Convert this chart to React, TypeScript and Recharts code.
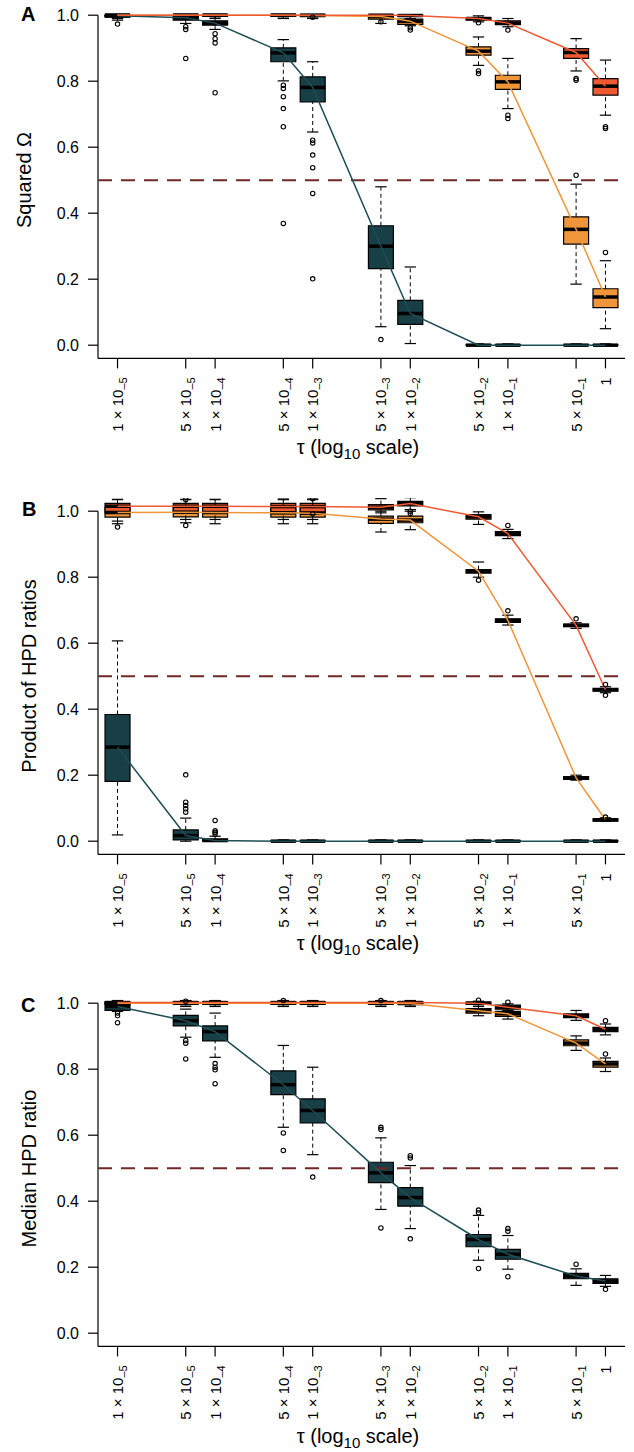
import React from 'react';
import {
  ComposedChart, XAxis, YAxis, Line, ReferenceArea, ReferenceLine, ReferenceDot,
} from 'recharts';

const FONT = '"Liberation Sans", Arial, Helvetica, sans-serif';

// ---- categories / tick labels ----
const TAU = [1e-5, 5e-5, 1e-4, 5e-4, 1e-3, 5e-3, 1e-2, 5e-2, 1e-1, 5e-1, 1];
const TAU_MANT = ['1', '5', '1', '5', '1', '5', '1', '5', '1', '5', '1'];
const TAU_EXP = ['–5', '–5', '–4', '–4', '–3', '–3', '–2', '–2', '–1', '–1', ''];
const Y_TICKS = [0, 0.2, 0.4, 0.6, 0.8, 1.0];

// ---- Panel A : Squared Omega ----
const A_TEAL_LO = [0.985, 0.975, 0.957, 0.801, 0.646, 0.056, 0.005, 0, 0, 0, 0];
const A_TEAL_Q1 = [0.994, 0.985, 0.970, 0.859, 0.737, 0.232, 0.063, 0, 0, 0, 0];
const A_TEAL_MED = [0.998, 0.992, 0.976, 0.886, 0.781, 0.300, 0.096, 0, 0, 0, 0];
const A_TEAL_Q3 = [1.0, 0.998, 0.983, 0.901, 0.813, 0.362, 0.136, 0.002, 0.002, 0.002, 0.002];
const A_TEAL_HI = [1.0, 1.0, 1.0, 0.926, 0.859, 0.480, 0.237, 0.004, 0.004, 0.004, 0.004];
const A_TEAL_OUT = [[0.973], [0.965, 0.957, 0.869], [0.944, 0.929, 0.916, 0.765], [0.788, 0.778, 0.753, 0.717, 0.662, 0.369], [0.621, 0.613, 0.576, 0.538, 0.46, 0.201], [0.017], [], [], [], [], []];

const A_ORG_LO = [0.99, 0.99, 0.99, 0.99, 0.99, 0.975, 0.968, 0.848, 0.717, 0.185, 0.05];
const A_ORG_Q1 = [0.997, 0.997, 0.997, 0.997, 0.997, 0.988, 0.972, 0.879, 0.775, 0.306, 0.114];
const A_ORG_MED = [1.0, 1.0, 1.0, 1.0, 0.999, 0.996, 0.982, 0.891, 0.798, 0.351, 0.146];
const A_ORG_Q3 = [1.0, 1.0, 1.0, 1.0, 1.0, 1.0, 0.988, 0.904, 0.818, 0.389, 0.171];
const A_ORG_HI = [1.0, 1.0, 1.0, 1.0, 1.0, 1.0, 1.0, 0.934, 0.869, 0.488, 0.256];
const A_ORG_OUT = [[], [], [], [], [0.994], [0.98], [0.962, 0.955], [0.831, 0.823], [0.697, 0.687], [0.515], [0.281]];

const A_RED_LO = [0.995, 0.995, 0.995, 0.995, 0.995, 0.995, 0.99, 0.98, 0.965, 0.831, 0.697];
const A_RED_Q1 = [0.999, 0.999, 0.999, 0.999, 0.999, 0.998, 0.996, 0.985, 0.971, 0.869, 0.758];
const A_RED_MED = [1.0, 1.0, 1.0, 1.0, 1.0, 1.0, 0.999, 0.99, 0.976, 0.887, 0.785];
const A_RED_Q3 = [1.0, 1.0, 1.0, 1.0, 1.0, 1.0, 1.0, 0.993, 0.983, 0.899, 0.808];
const A_RED_HI = [1.0, 1.0, 1.0, 1.0, 1.0, 1.0, 1.0, 0.998, 0.99, 0.929, 0.864];
const A_RED_OUT = [[], [], [], [], [], [], [], [0.977], [0.955], [0.808, 0.803], [0.662, 0.657]];

// ---- Panel B : Product of HPD ratios ----
const B_TEAL_LO = [0.019, 0, 0, 0, 0, 0, 0, 0, 0, 0, 0];
const B_TEAL_Q1 = [0.181, 0.004, 0, 0, 0, 0, 0, 0, 0, 0, 0];
const B_TEAL_MED = [0.285, 0.017, 0.002, 0, 0, 0, 0, 0, 0, 0, 0];
const B_TEAL_Q3 = [0.384, 0.034, 0.007, 0.002, 0.002, 0.002, 0.002, 0.002, 0.002, 0.002, 0.002];
const B_TEAL_HI = [0.607, 0.07, 0.015, 0.004, 0.004, 0.004, 0.004, 0.004, 0.004, 0.004, 0.004];
const B_TEAL_OUT = [[], [0.201, 0.118, 0.108, 0.098, 0.088], [0.063, 0.032, 0.027, 0.022], [], [], [], [], [], [], [], []];

const B_ORG_LO = [0.962, 0.965, 0.962, 0.962, 0.962, 0.937, 0.944, 0.80, 0.655, 0.185, 0.06];
const B_ORG_Q1 = [0.982, 0.983, 0.982, 0.982, 0.982, 0.963, 0.965, 0.812, 0.663, 0.187, 0.061];
const B_ORG_MED = [0.996, 0.997, 0.996, 0.995, 0.994, 0.976, 0.973, 0.818, 0.669, 0.192, 0.065];
const B_ORG_Q3 = [1.012, 1.012, 1.012, 1.01, 1.01, 0.985, 0.985, 0.823, 0.674, 0.196, 0.068];
const B_ORG_HI = [1.035, 1.035, 1.035, 1.035, 1.035, 1.0, 1.0, 0.846, 0.685, 0.2, 0.071];
const B_ORG_OUT = [[0.952], [0.957], [], [], [0.992], [], [], [0.791], [0.698], [], [0.073]];

const B_RED_LO = [0.97, 0.975, 0.975, 0.975, 0.975, 0.995, 1.005, 0.96, 0.917, 0.645, 0.45];
const B_RED_Q1 = [0.995, 0.997, 0.997, 0.997, 0.997, 1.004, 1.016, 0.976, 0.926, 0.65, 0.455];
const B_RED_MED = [1.015, 1.015, 1.015, 1.014, 1.014, 1.012, 1.023, 0.983, 0.932, 0.654, 0.459];
const B_RED_Q3 = [1.024, 1.024, 1.024, 1.024, 1.024, 1.02, 1.03, 0.99, 0.938, 0.658, 0.463];
const B_RED_HI = [1.041, 1.041, 1.041, 1.04, 1.04, 1.038, 1.041, 0.998, 0.945, 0.662, 0.468];
const B_RED_OUT = [[], [1.035], [], [], [1.038], [], [1.0, 0.993], [], [0.957], [0.674], [0.475, 0.442]];

// ---- Panel C : Median HPD ratio ----
const C_TEAL_LO = [0.975, 0.897, 0.836, 0.624, 0.541, 0.375, 0.317, 0.221, 0.194, 0.145, 0.142];
const C_TEAL_Q1 = [0.978, 0.931, 0.886, 0.723, 0.637, 0.456, 0.385, 0.262, 0.224, 0.165, 0.151];
const C_TEAL_MED = [0.99, 0.947, 0.914, 0.753, 0.675, 0.486, 0.411, 0.284, 0.239, 0.173, 0.158];
const C_TEAL_Q3 = [1.0, 0.963, 0.931, 0.795, 0.71, 0.518, 0.441, 0.299, 0.254, 0.181, 0.165];
const C_TEAL_HI = [1.0, 0.982, 0.97, 0.872, 0.806, 0.592, 0.508, 0.357, 0.296, 0.195, 0.175];
const C_TEAL_OUT = [[0.97, 0.962, 0.941], [0.887, 0.879, 0.831], [0.817, 0.806, 0.798, 0.756], [0.607, 0.554], [0.473], [0.624, 0.617, 0.319], [0.538, 0.531, 0.286], [0.373, 0.365, 0.196], [0.317, 0.309, 0.171], [0.209], [0.133]];

const C_ORG_LO = [0.99, 0.99, 0.99, 0.99, 0.99, 0.99, 0.99, 0.962, 0.952, 0.857, 0.793];
const C_ORG_Q1 = [0.997, 0.997, 0.997, 0.997, 0.997, 0.997, 0.997, 0.97, 0.96, 0.871, 0.806];
const C_ORG_MED = [1.0, 1.0, 1.0, 1.0, 1.0, 1.0, 0.999, 0.977, 0.968, 0.879, 0.816];
const C_ORG_Q3 = [1.003, 1.003, 1.003, 1.003, 1.003, 1.003, 1.003, 0.984, 0.975, 0.889, 0.824];
const C_ORG_HI = [1.008, 1.008, 1.008, 1.008, 1.008, 1.008, 1.008, 0.995, 0.985, 0.901, 0.834];
const C_ORG_OUT = [[], [1.006], [], [1.008], [], [], [], [], [], [], [0.846]];

const C_RED_LO = [0.995, 0.995, 0.995, 0.995, 0.995, 0.995, 0.995, 0.99, 0.978, 0.948, 0.904];
const C_RED_Q1 = [0.999, 0.999, 0.999, 0.999, 0.999, 0.999, 0.999, 0.996, 0.982, 0.956, 0.914];
const C_RED_MED = [1.002, 1.002, 1.002, 1.002, 1.002, 1.002, 1.002, 1.0, 0.988, 0.962, 0.921];
const C_RED_Q3 = [1.004, 1.004, 1.004, 1.004, 1.004, 1.004, 1.004, 1.003, 0.994, 0.968, 0.927];
const C_RED_HI = [1.008, 1.008, 1.008, 1.008, 1.008, 1.008, 1.008, 1.006, 0.998, 0.978, 0.937];
const C_RED_OUT = [[], [], [], [], [], [1.008], [], [1.009], [1.003], [], [0.947]];

// ---- styling ----
const TEAL = '#173f45';
const TEAL_LINE = '#1f4d54';
const ORANGE = '#f0963a';
const RED = '#ef5a32';
const DASH_COLOR = '#722727';

const X_MIN = Math.pow(10, -5.2);
const X_MAX = Math.pow(10, 0.2);
const BOX_F = Math.pow(10, 0.128);
const CAP_F = Math.pow(10, 0.058);
const PLOT_H = 356.4;
const XAX_H = 92;

type BoxSet = { lo: number[]; q1: number[]; med: number[]; q3: number[]; hi: number[]; out: number[][]; fill: string; line: string; key: string };

const mk = (lo: number[], q1: number[], med: number[], q3: number[], hi: number[], out: number[][], fill: string, line: string, key: string): BoxSet =>
  ({ lo, q1, med, q3, hi, out, fill, line, key });

const PANELS = [
  {
    id: 'A', top: 1.8, ylabel: 'Squared Ω',
    series: [
      mk(A_TEAL_LO, A_TEAL_Q1, A_TEAL_MED, A_TEAL_Q3, A_TEAL_HI, A_TEAL_OUT, TEAL, TEAL_LINE, 'teal'),
      mk(A_ORG_LO, A_ORG_Q1, A_ORG_MED, A_ORG_Q3, A_ORG_HI, A_ORG_OUT, ORANGE, ORANGE, 'orange'),
      mk(A_RED_LO, A_RED_Q1, A_RED_MED, A_RED_Q3, A_RED_HI, A_RED_OUT, RED, RED, 'red'),
    ],
  },
  {
    id: 'B', top: 497.8, ylabel: 'Product of HPD ratios',
    series: [
      mk(B_TEAL_LO, B_TEAL_Q1, B_TEAL_MED, B_TEAL_Q3, B_TEAL_HI, B_TEAL_OUT, TEAL, TEAL_LINE, 'teal'),
      mk(B_ORG_LO, B_ORG_Q1, B_ORG_MED, B_ORG_Q3, B_ORG_HI, B_ORG_OUT, ORANGE, ORANGE, 'orange'),
      mk(B_RED_LO, B_RED_Q1, B_RED_MED, B_RED_Q3, B_RED_HI, B_RED_OUT, RED, RED, 'red'),
    ],
  },
  {
    id: 'C', top: 990.1, ylabel: 'Median HPD ratio',
    series: [
      mk(C_TEAL_LO, C_TEAL_Q1, C_TEAL_MED, C_TEAL_Q3, C_TEAL_HI, C_TEAL_OUT, TEAL, TEAL_LINE, 'teal'),
      mk(C_ORG_LO, C_ORG_Q1, C_ORG_MED, C_ORG_Q3, C_ORG_HI, C_ORG_OUT, ORANGE, ORANGE, 'orange'),
      mk(C_RED_LO, C_RED_Q1, C_RED_MED, C_RED_Q3, C_RED_HI, C_RED_OUT, RED, RED, 'red'),
    ],
  },
];

function XTick(props: any) {
  const { x, y, payload } = props;
  const i = TAU.findIndex((t) => Math.abs(Math.log10(t) - Math.log10(payload.value)) < 1e-6);
  const m = TAU_MANT[i];
  const e = TAU_EXP[i];
  return (
    <text
      x={x}
      y={y}
      dy={5.5}
      transform={`rotate(-90 ${x} ${y})`}
      textAnchor="end"
      fontSize={15}
      fill="#000"
      fontFamily={FONT}
    >
      {e ? (
        <>
          {m + ' × 10'}
          <tspan fontSize={11} dy={4}>{e}</tspan>
        </>
      ) : m}
    </text>
  );
}

function boxElements(s: BoxSet) {
  const els: any[] = [];
  TAU.forEach((t, i) => {
    const k = `${s.key}-${i}`;
    const xl = t / BOX_F;
    const xr = t * BOX_F;
    const cl = t / CAP_F;
    const cr = t * CAP_F;
    if (s.hi[i] > s.q3[i]) {
      els.push(<ReferenceLine key={`wu${k}`} segment={[{ x: t, y: s.q3[i] }, { x: t, y: s.hi[i] }]} stroke="#000" strokeWidth={1} strokeDasharray="4 3" ifOverflow="visible" />);
    }
    if (s.lo[i] < s.q1[i]) {
      els.push(<ReferenceLine key={`wl${k}`} segment={[{ x: t, y: s.lo[i] }, { x: t, y: s.q1[i] }]} stroke="#000" strokeWidth={1} strokeDasharray="4 3" ifOverflow="visible" />);
    }
    els.push(<ReferenceLine key={`cu${k}`} segment={[{ x: cl, y: s.hi[i] }, { x: cr, y: s.hi[i] }]} stroke="#000" strokeWidth={1.2} ifOverflow="visible" />);
    els.push(<ReferenceLine key={`cl${k}`} segment={[{ x: cl, y: s.lo[i] }, { x: cr, y: s.lo[i] }]} stroke="#000" strokeWidth={1.2} ifOverflow="visible" />);
    els.push(<ReferenceArea key={`bx${k}`} x1={xl} x2={xr} y1={s.q1[i]} y2={s.q3[i]} fill={s.fill} fillOpacity={1} stroke="#000" strokeWidth={1.2} ifOverflow="visible" />);
    els.push(<ReferenceLine key={`md${k}`} segment={[{ x: xl, y: s.med[i] }, { x: xr, y: s.med[i] }]} stroke="#000" strokeWidth={3.5} ifOverflow="visible" />);
    s.out[i].forEach((v, j) => {
      els.push(<ReferenceDot key={`o${k}-${j}`} x={t} y={v} r={2.2} fill="none" stroke="#000" strokeWidth={1.1} ifOverflow="visible" />);
    });
  });
  return els;
}

function Panel({ panel }: { panel: typeof PANELS[number] }) {
  const rows = TAU.map((t, i) => ({
    tau: t,
    teal: panel.series[0].med[i],
    orange: panel.series[1].med[i],
    red: panel.series[2].med[i],
  }));
  return (
    <div style={{ position: 'absolute', left: 0, top: panel.top }}>
      <ComposedChart
        width={634}
        height={PLOT_H + XAX_H}
        data={rows}
        margin={{ top: 0, right: 9, bottom: 0, left: 0 }}
      >
        <XAxis
          dataKey="tau"
          type="number"
          scale="log"
          domain={[X_MIN, X_MAX]}
          allowDataOverflow
          ticks={TAU}
          interval={0}
          tick={<XTick />}
          tickSize={10}
          tickMargin={9}
          height={XAX_H}
          stroke="#000"
          axisLine={{ stroke: '#000', strokeWidth: 1.2 }}
          tickLine={{ stroke: '#000', strokeWidth: 1.2 }}
        />
        <YAxis
          type="number"
          domain={[-0.04, 1.04]}
          ticks={Y_TICKS}
          interval={0}
          width={98}
          tickSize={10}
          tickMargin={9}
          axisLine={false}
          tickLine={{ stroke: '#000', strokeWidth: 1.2 }}
          tick={{ fill: '#000', fontSize: 16, fontFamily: FONT }}
          tickFormatter={(v: number) => v.toFixed(1)}
        />
        <ReferenceLine segment={[{ x: X_MIN, y: -0.04 }, { x: X_MIN, y: 1.0 }]} stroke="#000" strokeWidth={1.2} ifOverflow="visible" />
        <ReferenceLine y={0.5} stroke={DASH_COLOR} strokeWidth={2} strokeDasharray="14 9" ifOverflow="visible" />
        {boxElements(panel.series[0])}
        {boxElements(panel.series[1])}
        {boxElements(panel.series[2])}
        <Line dataKey="teal" type="linear" stroke={TEAL_LINE} strokeWidth={1.5} dot={false} isAnimationActive={false} />
        <Line dataKey="orange" type="linear" stroke={ORANGE} strokeWidth={1.5} dot={false} isAnimationActive={false} />
        <Line dataKey="red" type="linear" stroke={RED} strokeWidth={1.5} dot={false} isAnimationActive={false} />
      </ComposedChart>
    </div>
  );
}

const LETTERS = [
  { t: 'A', x: 21, y: 21 },
  { t: 'B', x: 22, y: 516 },
  { t: 'C', x: 21, y: 1012 },
];
const YLABELS = [
  { t: 'Squared Ω', x: 31, y: 180 },
  { t: 'Product of HPD ratios', x: 36, y: 676 },
  { t: 'Median HPD ratio', x: 36, y: 1168.5 },
];
const XTITLE_Y = [454, 950, 1443];

export default function App() {
  return (
    <div style={{ position: 'absolute', left: 0, top: 0, width: 634, height: 1452, background: '#fff', fontFamily: FONT, overflow: 'hidden' }}>
      {PANELS.map((p) => <Panel key={p.id} panel={p} />)}
      <svg width={634} height={1452} style={{ position: 'absolute', left: 0, top: 0, pointerEvents: 'none' }} fontFamily={FONT}>
        {LETTERS.map((l) => (
          <text key={l.t} x={l.x} y={l.y} fontSize={20} fontWeight="bold" fill="#000">{l.t}</text>
        ))}
        {YLABELS.map((l) => (
          <text key={l.t} x={l.x} y={l.y} transform={`rotate(-90 ${l.x} ${l.y})`} textAnchor="middle" fontSize={20} fill="#000">{l.t}</text>
        ))}
        {XTITLE_Y.map((y) => (
          <text key={y} x={358} y={y} textAnchor="middle" fontSize={20} fill="#000">
            τ (log<tspan fontSize={15} dy={5}>10</tspan><tspan dy={-5}> scale)</tspan>
          </text>
        ))}
      </svg>
    </div>
  );
}
